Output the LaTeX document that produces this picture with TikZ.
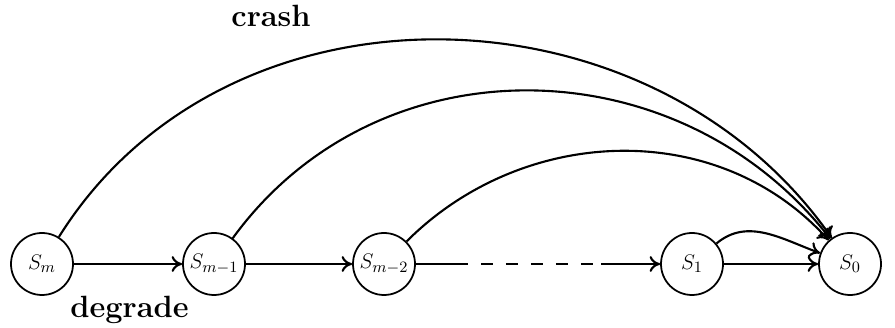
\documentclass[tikz,border=0pt]{standalone}
\usepackage{amsmath,amssymb}
\usepackage{tikz}
\usetikzlibrary{positioning, arrows.meta, calc}

\begin{document}
\begin{tikzpicture}[
        state/.style={circle, draw=black, line width=1pt, minimum size=1.24cm, inner sep=0pt, font=\fontsize{13}{16}\selectfont},
        label/.style={font=\fontsize{17.5}{21}\selectfont\bfseries, anchor=base},
        arrow/.style={-{To[length=6pt, width=9pt, line width=1.2pt]}, line width=1.2pt}
      ]
      \useasboundingbox (0,0) rectangle (17.9,6.56);
      \node[state] (Sm) at (0.84,1.28) {$S_m$};
      \node[state] (Sm1) at (4.28,1.28) {$S_{m-1}$};
      \node[state] (Sm2) at (7.68,1.28) {$S_{m-2}$};
      \node[state] (S1) at (13.84,1.28) {$S_1$};
      \node[state] (S0) at (17.0,1.28) {$S_0$};
      \node[label] (crash) at (5.42,6.02) {crash};
      \node[label] (degrade) at (2.59,0.2) {degrade};
      \coordinate (d1) at (9.36,1.28);
      \coordinate (d2) at (12.02,1.28);
      % degrade chain
      \draw[arrow] (Sm) -- (Sm1);
      \draw[arrow] (Sm1) -- (Sm2);
      \draw[line width=1.2pt] (Sm2) -- (d1);
      \draw[line width=1.2pt, dash pattern=on 6.8pt off 7.4pt, dash phase=6.8pt] (d1) -- (d2);
      \draw[arrow] (d2) -- (S1);
      \draw[arrow] (S1) -- (S0);
      % crash arcs
      \foreach \s/\o/\i/\l in {Sm/58/125/1.05, Sm1/54/128/1.06, Sm2/45/132/1.0, S1/40/160/1.0} {
         \draw[arrow] (\s) to[out=\o, in=\i, looseness=\l] (S0);
      }
    \end{tikzpicture}
\end{document}
